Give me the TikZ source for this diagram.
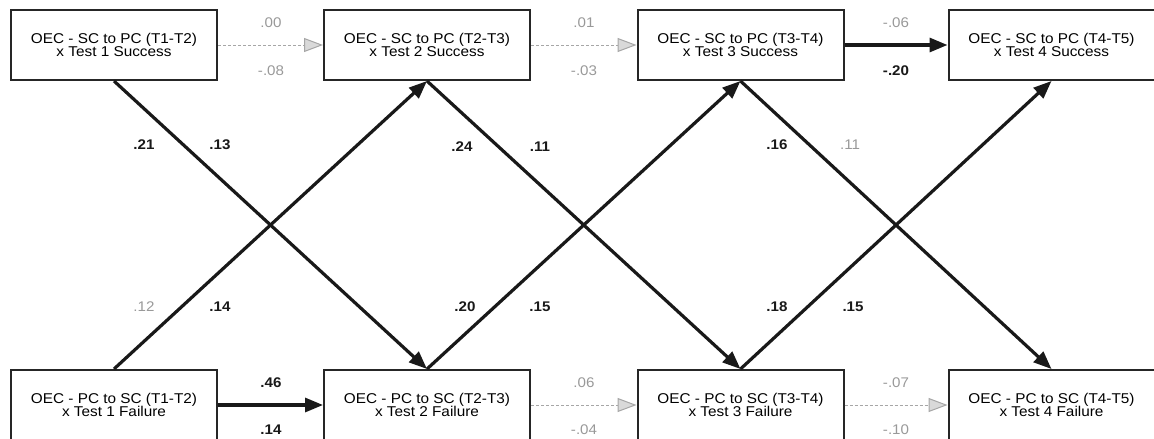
\documentclass[tikz,border=0pt]{standalone}
\usepackage{fontspec}
\setmainfont{Liberation Sans}[FakeStretch=1.08]
\usetikzlibrary{arrows.meta}
\begin{document}
\begin{tikzpicture}[x=1pt,y=-1pt,
  box/.style={draw=black!85, line width=2pt, minimum width=206pt, minimum height=70pt,
    align=center, font=\fontsize{14.2}{13.4}\selectfont, inner sep=0pt},
  sig/.style={draw=black!90, line width=3.2pt, -{Triangle[length=18pt,width=14pt]}},
  ns/.style={draw=black!35, dash pattern=on 3pt off 2pt, line width=0.9pt,
    -{Triangle[open,length=19pt,width=14pt,fill=black!15,line width=1pt]}},
  bl/.style={font=\fontsize{14}{14}\selectfont\bfseries, text=black!90},
  gl/.style={font=\fontsize{14}{14}\selectfont, text=black!40}]
\useasboundingbox (0,0) rectangle (1154,439);
% top row
\node[box] (s1) at (114,45) {OEC - SC to PC (T1-T2)\\x Test 1 Success};
\node[box] (s2) at (427,45) {OEC - SC to PC (T2-T3)\\x Test 2 Success};
\node[box] (s3) at (740.5,45) {OEC - SC to PC (T3-T4)\\x Test 3 Success};
\node[box] (s4) at (1051.5,45) {OEC - SC to PC (T4-T5)\\x Test 4 Success};
% bottom row
\node[box] (f1) at (114,405) {OEC - PC to SC (T1-T2)\\x Test 1 Failure};
\node[box] (f2) at (427,405) {OEC - PC to SC (T2-T3)\\x Test 2 Failure};
\node[box] (f3) at (740.5,405) {OEC - PC to SC (T3-T4)\\x Test 3 Failure};
\node[box] (f4) at (1051.5,405) {OEC - PC to SC (T4-T5)\\x Test 4 Failure};
% horizontal
\draw[ns] (s1.east) -- (s2.west);
\draw[ns] (s2.east) -- (s3.west);
\draw[sig] (s3.east) -- (s4.west);
\draw[sig] (f1.east) -- (f2.west);
\draw[ns] (f2.east) -- (f3.west);
\draw[ns] (f3.east) -- (f4.west);
% diagonals
\draw[sig] (s1.south) -- (f2.north);
\draw[sig] (f1.north) -- (s2.south);
\draw[sig] (s2.south) -- (f3.north);
\draw[sig] (f2.north) -- (s3.south);
\draw[sig] (s3.south) -- (f4.north);
\draw[sig] (f3.north) -- (s4.south);
% horizontal labels
\node[gl] (l1a) at (271,23) {.00};
\node[gl] (l1b) at (271,71) {-.08};
\node[gl] (l2a) at (584,23) {.01};
\node[gl] (l2b) at (584,71) {-.03};
\node[gl] (l3a) at (896,23) {-.06};
\node[bl] (l3b) at (896,71) {-.20};
\node[bl] (m1a) at (271,383) {.46};
\node[bl] (m1b) at (271,430) {.14};
\node[gl] (m2a) at (584,383) {.06};
\node[gl] (m2b) at (584,430) {-.04};
\node[gl] (m3a) at (896,383) {-.07};
\node[gl] (m3b) at (896,430) {-.10};
% diagonal labels (upper)
\node[bl] (d1a) at (144,145) {.21};
\node[bl] (d1b) at (220,145) {.13};
\node[bl] (d2a) at (462,147) {.24};
\node[bl] (d2b) at (540,147) {.11};
\node[bl] (d3a) at (777,145) {.16};
\node[gl] (d3b) at (850,145) {.11};
% diagonal labels (lower)
\node[gl] (e1a) at (144,307) {.12};
\node[bl] (e1b) at (220,307) {.14};
\node[bl] (e2a) at (465,307) {.20};
\node[bl] (e2b) at (540,307) {.15};
\node[bl] (e3a) at (777,307) {.18};
\node[bl] (e3b) at (853,307) {.15};
\end{tikzpicture}
\end{document}
